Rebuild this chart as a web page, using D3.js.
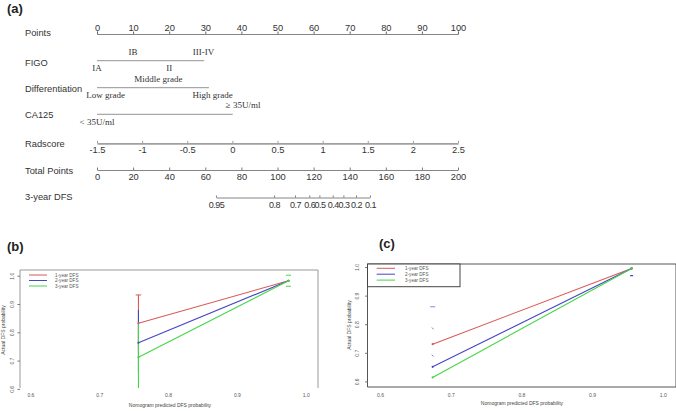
<!DOCTYPE html>
<html>
<head>
<meta charset="utf-8">
<script src="https://cdn.jsdelivr.net/npm/d3@7"></script>
<style>
body{margin:0;background:#fff}
text{font-family:"Liberation Sans",Arial,sans-serif}
.serif{font-family:"Liberation Serif","Times New Roman",serif}
</style>
</head>
<body>
<svg id="screen" width="676" height="411"></svg>
<script>
// ---- nomogram (a) ----
var rowNames=["Points","FIGO","Differentiation","CA125","Radscore","Total Points","3-year DFS"];
var figoLabels=["IA","IB","II","III-IV"];
var figoPoints=[0,10,20,29.5];
var figoEnd=29.7;
var diffLabels=["Low grade","Middle grade","High grade"];
var diffPoints=[2.4,17,32];
var diffEnd=31;
var caLabels=["< 35U/ml","\u2265 35U/ml"];
var caPoints=[0,40.5];
var caEnd=37.6;
var pointTicks=d3.range(0,101,10);
var radTicks=[-1.5,-1,-0.5,0,0.5,1,1.5,2,2.5];
var totalTicks=d3.range(0,201,20);
var dfsLabels=["0.95","0.8","0.7","0.6","0.5","0.4","0.3","0.2","0.1"];
var dfsTotal=[65.9,98.1,109.7,117.6,123.2,130.6,136.5,143.5,151.2];

// ---- calibration curves (b) and (c) ----
var seriesNames=["1-year DFS","2-year DFS","3-year DFS"];
var predB=[0.757,0.975];
var obsB=[[0.832,0.982],[0.763,0.982],[0.712,0.982]];
var lowB=[0.74,0.66,0.60];
var highB=[0.932,0.879,0.832];
var rightCapsB=[0.961,1.0];
var predC=[0.6745,0.956];
var obsC=[[0.730,0.995],[0.651,0.995],[0.614,0.995]];
var blueCapsC=[0.861,0.788,0.693];
var blueRightC=0.970;
var calTicks=[0.6,0.7,0.8,0.9,1.0];

var colors=["#d95858","#4545c8","#45d645"];
var svg=d3.select("#screen");

// panel letters
svg.append("text").attr("x",7).attr("y",13).attr("font-size",13).attr("font-weight","bold").attr("fill","#222").text("(a)");
svg.append("text").attr("x",7).attr("y",251).attr("font-size",13).attr("font-weight","bold").attr("fill","#222").text("(b)");
svg.append("text").attr("x",379).attr("y",248).attr("font-size",13).attr("font-weight","bold").attr("fill","#222").text("(c)");

var rowY=[34,60.7,87.7,114.3,143.3,170,197.5];
var labelY=[36,66,92,118,147,174,200];

var pts=d3.scaleLinear().domain([0,100]).range([97,458]);
var rad=d3.scaleLinear().domain([-1.5,2.5]).range([97,458]);
var tot=d3.scaleLinear().domain([0,200]).range([97,458]);

var nomo=svg.append("g");
nomo.selectAll("text.row").data(rowNames).enter().append("text").attr("class","row")
  .attr("x",25).attr("y",function(d,i){return labelY[i];})
  .attr("font-size",9.3).attr("fill","#333").text(function(d){return d;});

function styleAxis(g,col,w){
  g.select(".domain").attr("stroke",col).attr("stroke-width",w);
  g.selectAll(".tick line").attr("stroke",col);
  g.selectAll(".tick text").attr("fill","#333").attr("font-family","Liberation Sans, Arial, sans-serif");
}

// Points axis (labels above)
var gp=nomo.append("g").attr("transform","translate(0,"+rowY[0]+")");
gp.call(d3.axisTop(pts).tickValues(d3.range(0,101,2)).tickSizeOuter(0).tickSize(1.2).tickFormat(""));
gp.call(d3.axisTop(pts).tickValues(pointTicks).tickSizeOuter(0).tickSize(2.5).tickPadding(0.5));
gp.attr("font-size",9.3);
styleAxis(gp,"#666",0.8);

// categorical rows, labels alternate below / above the line
function catRow(labels,positions,end,y){
  nomo.append("line").attr("x1",pts(0)).attr("x2",pts(end)).attr("y1",y).attr("y2",y)
    .attr("stroke","#777").attr("stroke-width",0.8);
  nomo.selectAll(null).data(labels).enter().append("text").attr("class","serif")
    .attr("x",function(d,i){return pts(positions[i]);})
    .attr("y",function(d,i){return i%2===0? y+10.5 : y-6;})
    .attr("text-anchor","middle").attr("font-size",9).attr("fill","#333")
    .text(function(d){return d;});
}
catRow(figoLabels,figoPoints,figoEnd,rowY[1]);
catRow(diffLabels,diffPoints,diffEnd,rowY[2]);
catRow(caLabels,caPoints,caEnd,rowY[3]);

// Radscore
var gr=nomo.append("g").attr("transform","translate(0,"+rowY[4]+")");
gr.call(d3.axisBottom(rad).tickValues(radTicks).tickSizeOuter(0).tickSizeInner(-2.5).tickPadding(3.5)
  .tickFormat(function(d){return String(d);}));
gr.attr("font-size",9.3);
styleAxis(gr,"#a0a0a0",1.7);

// Total points
var gt=nomo.append("g").attr("transform","translate(0,"+rowY[5]+")");
gt.call(d3.axisBottom(tot).tickValues(d3.range(0,201,5)).tickSizeOuter(0).tickSizeInner(-1.5).tickFormat(""));
gt.call(d3.axisBottom(tot).tickValues(totalTicks).tickSizeOuter(0).tickSizeInner(-2.5).tickPadding(3.5));
gt.attr("font-size",9.3);
styleAxis(gt,"#777",0.9);

// 3-year DFS
var dfsScale=d3.scaleLinear().domain([dfsTotal[0],dfsTotal[dfsTotal.length-1]])
  .range([tot(dfsTotal[0]),tot(dfsTotal[dfsTotal.length-1])]);
var gd=nomo.append("g").attr("transform","translate(0,"+rowY[6]+")");
gd.call(d3.axisBottom(dfsScale).tickValues(dfsTotal).tickSizeOuter(0).tickSizeInner(-2).tickPadding(4)
  .tickFormat(function(d,i){return dfsLabels[i];}));
gd.attr("font-size",9);
styleAxis(gd,"#777",0.9);
gd.selectAll(".tick text").attr("letter-spacing",-0.5);

// ---- calibration panel helper ----
function calPanel(o){
  var g=svg.append("g");
  var x=d3.scaleLinear().domain([0.6,1.0]).range(o.xr);
  var y=d3.scaleLinear().domain([0.6,1.0]).range(o.yr);
  var id="clip"+o.name;
  svg.append("clipPath").attr("id",id).append("rect")
    .attr("x",o.box[0]).attr("y",o.box[1]).attr("width",o.box[2]-o.box[0]).attr("height",o.box[3]-o.box[1]);
  var fr=o.full? "M"+o.box[0]+","+o.box[1]+"H"+o.box[2]+"V"+o.box[3]+"H"+o.box[0]+"Z"
               : "M"+o.box[0]+","+o.box[3]+"V"+o.box[1]+"H"+o.box[2]+"V"+o.box[3];
  g.append("path").attr("d",fr).attr("fill","none").attr("stroke",o.frame).attr("stroke-width",1);
  // y axis with rotated labels
  var ya=g.append("g").attr("transform","translate("+o.box[0]+",0)")
    .call(d3.axisLeft(y).tickValues(calTicks).tickSize(2.5).tickFormat(d3.format(".1f")));
  ya.select(".domain").remove();
  ya.selectAll(".tick line").attr("stroke","#777");
  ya.selectAll(".tick text").attr("font-size",5).attr("fill","#555").attr("text-anchor","middle")
    .attr("x",null).attr("dy","0.35em")
    .attr("transform","translate("+(o.ylab-o.box[0])+",0) rotate(-90)");
  // x axis
  var xa=g.append("g").attr("transform","translate(0,"+o.xlabY+")")
    .call(d3.axisBottom(x).tickValues(calTicks).tickSize(0).tickPadding(0).tickFormat(d3.format(".1f")));
  xa.select(".domain").remove();
  xa.selectAll(".tick text").attr("font-size",5).attr("fill","#555").attr("dy","0");
  // titles
  g.append("text").attr("x",o.xt[0]).attr("y",o.xt[1]).attr("text-anchor","middle")
    .attr("font-size",5).attr("fill","#444").text("Nomogram predicted DFS probability");
  g.append("text").attr("transform","translate("+o.yt[0]+","+o.yt[1]+") rotate(-90)")
    .attr("text-anchor","middle").attr("font-size",5).attr("fill","#444").text("Actual DFS probability");
  var dg=g.append("g").attr("clip-path","url(#"+id+")");
  return {g:dg,x:x,y:y,draw:function(pred,obs){
    var line=d3.line().x(function(d,i){return x(pred[i]);}).y(function(d){return y(d);});
    obs.forEach(function(s,k){
      dg.append("path").attr("d",line(s)).attr("fill","none").attr("stroke",colors[k]).attr("stroke-width",1.1);
      dg.selectAll(null).data(s).enter().append("circle")
        .attr("cx",function(d,i){return x(pred[i]);}).attr("cy",function(d){return y(d);})
        .attr("r",1.1).attr("fill",colors[k]);
    });
  }};
}

// (b)
var pb=calPanel({name:"b",xr:[30.4,305.7],yr:[388.9,275.7],box:[20,270,318,388],full:false,frame:"#999",
  ylab:12,xlabY:397,xt:[170,407],yt:[5,330]});
var bx=pb.x(predB[0]);
lowB.forEach(function(v,k){
  pb.g.append("line").attr("x1",bx).attr("x2",bx).attr("y1",pb.y(v)).attr("y2",pb.y(highB[k]))
    .attr("stroke",colors[k]).attr("stroke-width",1.1);
});
pb.g.append("line").attr("x1",bx-2.8).attr("x2",bx+2.8).attr("y1",pb.y(highB[0])).attr("y2",pb.y(highB[0]))
  .attr("stroke",colors[0]).attr("stroke-width",1);
pb.draw(predB,obsB);
rightCapsB.forEach(function(v){
  var cx=pb.x(predB[1]);
  pb.g.append("line").attr("x1",cx-2.5).attr("x2",cx+2.5).attr("y1",pb.y(v)-0.5).attr("y2",pb.y(v)-0.5)
    .attr("stroke",colors[2]).attr("stroke-width",1);
});
seriesNames.forEach(function(n,k){
  var ly=275+k*5.5;
  svg.append("line").attr("x1",29).attr("x2",47).attr("y1",ly).attr("y2",ly).attr("stroke",colors[k]).attr("stroke-width",1);
  svg.append("text").attr("x",55).attr("y",ly+1.6).attr("font-size",4.6).attr("fill","#555").text(n);
});

// (c)
var pc=calPanel({name:"c",xr:[380,662.7],yr:[381.4,267],box:[367.5,264,676,387],full:true,frame:"#555",
  ylab:357.5,xlabY:397,xt:[522,405],yt:[351,325]});
pc.draw(predC,obsC);
blueCapsC.forEach(function(v,i){
  var cx=pc.x(predC[0]);
  pc.g.append("line").attr("x1",cx-(i===0?2.5:1)).attr("x2",cx+(i===0?2.5:1))
    .attr("y1",pc.y(v)).attr("y2",pc.y(v)+(i===0?0:1.5))
    .attr("stroke",colors[1]).attr("stroke-width",0.9).attr("opacity",0.7);
});
pc.g.append("line").attr("x1",pc.x(predC[1])-1.5).attr("x2",pc.x(predC[1])+1.5)
  .attr("y1",pc.y(blueRightC)).attr("y2",pc.y(blueRightC)).attr("stroke",colors[1]).attr("stroke-width",1.4);
svg.append("rect").attr("x",367.5).attr("y",264).attr("width",92.5).attr("height",22.7)
  .attr("fill","#fff").attr("stroke","#444").attr("stroke-width",1);
seriesNames.forEach(function(n,k){
  var ly=268.3+k*5.9;
  svg.append("line").attr("x1",376.7).attr("x2",395).attr("y1",ly).attr("y2",ly).attr("stroke",colors[k]).attr("stroke-width",1);
  svg.append("text").attr("x",405).attr("y",ly+1.6).attr("font-size",4.6).attr("fill","#555").text(n);
});
</script>
</body>
</html>
